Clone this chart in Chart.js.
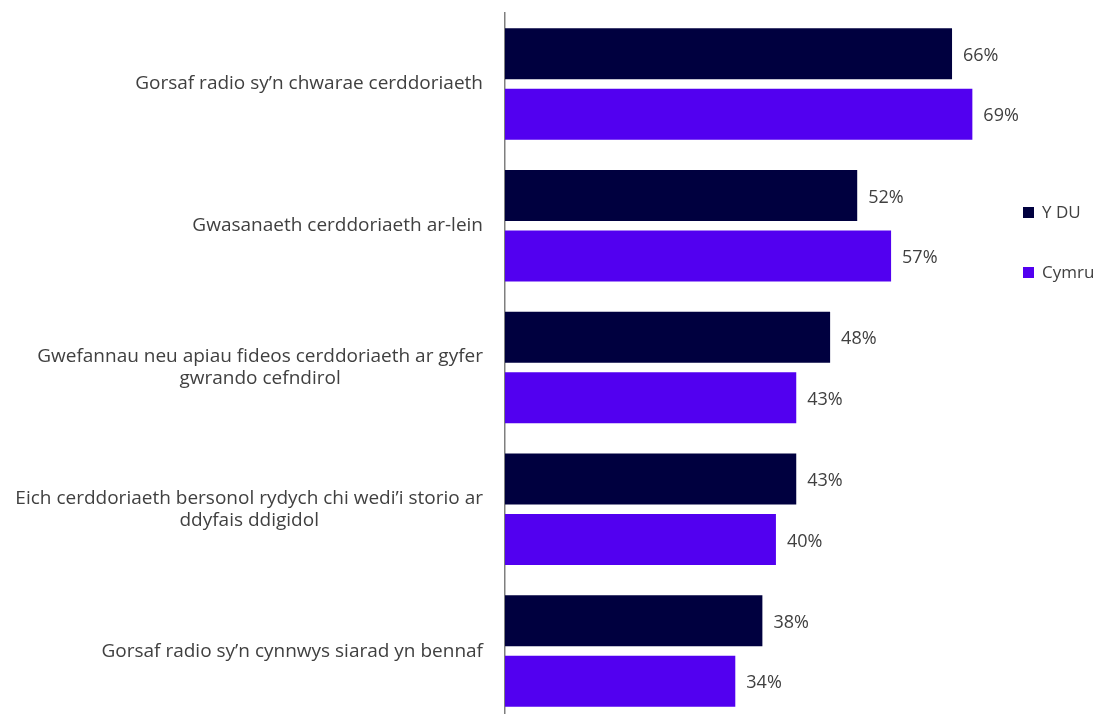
<!DOCTYPE html>
<html>
<head>
<meta charset="utf-8">
<script src="https://cdn.jsdelivr.net/npm/chart.js"></script>
<style>
  body { margin: 0; background: #ffffff; }
  #wrap { position: relative; width: 1100px; height: 714px; overflow: hidden; }
  .leg { position: absolute; left: 1023px; font: 17px "Open Sans", sans-serif; color: #404040; line-height: 20px; white-space: nowrap; }
  .leg span { display: inline-block; width: 11px; height: 11px; margin-right: 8px; vertical-align: 0px; }
</style>
</head>
<body>
<div id="wrap">
  <canvas id="grafico" width="1100" height="724"></canvas>
</div>
<script>
// categorias (linhas do rótulo)
var categorias = [
    ['Gorsaf radio sy’n chwarae cerddoriaeth'],
    ['Gwasanaeth cerddoriaeth ar-lein'],
    ['Gwefannau neu apiau fideos cerddoriaeth ar gyfer', 'gwrando cefndirol'],
    ['Eich cerddoriaeth bersonol rydych chi wedi’i storio ar', 'ddyfais ddigidol'],
    ['Gorsaf radio sy’n cynnwys siarad yn bennaf']
];
var nomesSeries = ['Y DU', 'Cymru'];
var coresSeries = ['#00003f', '#5200f0'];
var valoresYDU = [66, 52, 48, 43, 38];
var valoresCymru = [69, 57, 43, 40, 34];

var corTexto = '#404040';
var fonte = '"Open Sans", sans-serif';

// rótulos de valor no fim de cada barra
var rotulosValor = {
    id: 'rotulosValor',
    afterDatasetsDraw: function (chart) {
        var ctx = chart.ctx;
        ctx.save();
        ctx.font = '18px ' + fonte;
        ctx.fillStyle = corTexto;
        ctx.textAlign = 'left';
        ctx.textBaseline = 'middle';
        chart.data.datasets.forEach(function (ds, i) {
            chart.getDatasetMeta(i).data.forEach(function (el, j) {
                ctx.fillText(ds.data[j] + '%', el.x + 11, el.y + 2);
            });
        });
        ctx.restore();
    }
};

// rótulos das categorias: bloco alinhado à direita, linhas centradas
var rotulosCategoria = {
    id: 'rotulosCategoria',
    afterDraw: function (chart) {
        var ctx = chart.ctx;
        var y = chart.scales.y;
        var direita = 483;
        var alturaLinha = 22;
        ctx.save();
        ctx.font = '19px ' + fonte;
        ctx.fillStyle = corTexto;
        ctx.textAlign = 'center';
        ctx.textBaseline = 'middle';
        categorias.forEach(function (linhas, i) {
            var largura = 0;
            linhas.forEach(function (l) {
                largura = Math.max(largura, ctx.measureText(l).width);
            });
            var cx = direita - largura / 2;
            var cy = y.getPixelForValue(i);
            var topo = cy - (linhas.length - 1) * alturaLinha / 2;
            linhas.forEach(function (l, k) {
                ctx.fillText(l, cx, topo + k * alturaLinha);
            });
        });
        ctx.restore();
    }
};

var ctx = document.getElementById('grafico').getContext('2d');
new Chart(ctx, {
    type: 'bar',
    data: {
        labels: categorias,
        datasets: [
            {
                label: nomesSeries[0],
                data: valoresYDU,
                backgroundColor: coresSeries[0],
                barPercentage: 51 / 60.5,
                categoryPercentage: 121 / 141.8
            },
            {
                label: nomesSeries[1],
                data: valoresCymru,
                backgroundColor: coresSeries[1],
                barPercentage: 51 / 60.5,
                categoryPercentage: 121 / 141.8
            }
        ]
    },
    plugins: [rotulosValor, rotulosCategoria],
    options: {
        indexAxis: 'y',
        responsive: false,
        animation: false,
        devicePixelRatio: 1,
        layout: {
            padding: { left: 497, top: 13, bottom: 2, right: 87 }
        },
        plugins: {
            legend: { display: false },
            tooltip: { enabled: false }
        },
        scales: {
            x: {
                display: false,
                min: 0,
                max: 75
            },
            y: {
                grid: { display: false },
                ticks: { display: false },
                border: { display: true, color: '#7f7f7f', width: 1.5 }
            }
        }
    }
});

// legenda
var wrap = document.getElementById('wrap');
var topos = [202, 262];
nomesSeries.forEach(function (nome, i) {
    var d = document.createElement('div');
    d.className = 'leg';
    d.style.top = topos[i] + 'px';
    d.innerHTML = '<span style="background:' + coresSeries[i] + '"></span>' + nome;
    wrap.appendChild(d);
});
</script>
</body>
</html>
